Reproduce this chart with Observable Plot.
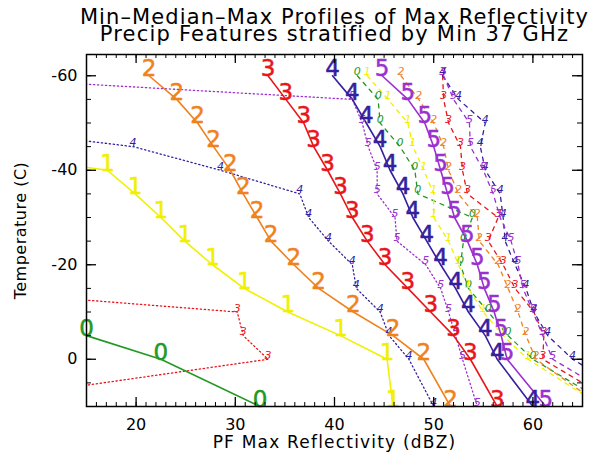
<!DOCTYPE html>
<html><head><meta charset="utf-8">
<script src="https://cdn.jsdelivr.net/npm/d3@7"></script>
<script src="https://cdn.jsdelivr.net/npm/@observablehq/plot@0.6"></script>
<style>body{margin:0;background:#fff}</style>
</head><body><div id="chart"></div>
<script>
// Temperature levels (C)
const temps = [-60,-55,-50,-45,-40,-35,-30,-25,-20,-15,-10,-5,0,10];
// series labels (min 37 GHz classes) and colours
const seriesLabels = ["0","1","2","3","4","5"];
const seriesColors = ["#229922","#f0f000","#f0821e","#e8151b","#34209e","#9b30d0"];
// Median profiles (dBZ) per series, one value per temperature level
const medianDbz = [
  [0,0,0,0,0,0,0,0,0,0,0,15,22.5,32.5],
  [0,0,0,0,17.1,19.9,22.5,24.9,27.7,30.9,35.3,40.6,45.3,45.9],
  [21.3,24.1,26.2,27.8,29.5,30.8,32.2,33.6,35.9,38.4,41.9,45.9,49.0,51.7],
  [33.3,35.1,36.9,37.9,39.3,40.6,41.8,43.3,45.1,47.4,49.7,52.0,53.7,56.4],
  [39.8,41.8,43.2,44.6,45.6,46.9,47.9,49.3,50.7,52.2,53.5,55.2,56.4,60.0],
  [44.8,47.4,49.1,50.0,50.7,51.4,52.1,53.4,54.4,55.1,56.1,56.8,57.4,61.3]
];
// Minimum profiles (dBZ)
const minDbz = [
  [0,0,0,0,0,0,0,0,0,0,0,0,0,0],
  [0,0,0,0,0,0,0,0,0,0,0,0,0,0],
  [0,0,0,0,0,0,0,0,0,0,0,0,0,0],
  [0,0,0,0,0,0,0,0,0,0,30.2,30.8,33.3,0],
  [0,0,0,19.7,28.5,36.5,37.4,39.4,41.8,42.2,44.6,45.5,47.5,50.0],
  [0,41.8,42.8,43.4,44.3,44.3,46.1,46.3,49.2,50.7,51.5,52.2,52.9,54.4]
];
// Maximum profiles (dBZ)
const maxDbz = [
  [42.3,44.4,44.6,46.6,48.1,48.4,53.9,53.0,52.7,53.5,55.5,57.5,60.0,68],
  [43.3,45.4,47.4,47.9,49.0,50.0,50.0,51.5,52.5,53.5,55.0,57.0,59.5,67],
  [46.7,48.5,50.0,51.0,51.5,52.5,54.4,54.6,56.5,57.5,58.5,59.3,60.3,67],
  [50.9,51.0,51.5,52.7,52.9,53.4,56.5,55.5,57.0,58.2,60.1,61.1,61.0,69],
  [50.9,52.5,55.2,54.7,55.2,56.7,57.0,57.2,58.2,59.3,60.1,61.5,64.0,72],
  [51.0,52.0,53.6,53.7,55.0,56.0,56.7,57.8,58.5,59.0,60.0,61.0,62.0,70]
];
const xMajorTicks = [20,30,40,50,60];
const yMajorTicks = [-60,-40,-20,0];
const titleLines = ["Min\u2013Median\u2013Max Profiles of Max Reflectivity","Precip Features stratified by Min 37 GHz"];
const xTitle = "PF Max Reflectivity (dBZ)";
const yTitle = "Temperature (C)";

function rows(arrays) {
  const out = [];
  arrays.forEach((vals, s) => vals.forEach((v, i) => out.push({s, label: seriesLabels[s], color: seriesColors[s], t: temps[i], x: v})));
  return out;
}
const med = rows(medianDbz), mn = rows(minDbz), mx = rows(maxDbz);
const visible = d => d.x >= 14 && d.x <= 65.5;

const W = 591, H = 456, mL = 86, mR = 9, mT = 54, mB = 50;
const fw = W - mL - mR, fh = H - mT - mB;
const xMinor = d3.range(15, 66, 1), yMinor = d3.range(-60, 11, 5);

const chart = Plot.plot({
  width: W, height: H,
  marginLeft: mL, marginRight: mR, marginTop: mT, marginBottom: mB,
  style: {fontFamily: "DejaVu Sans, sans-serif", fontSize: "16px", color: "#000", background: "#fff", overflow: "visible"},
  x: {domain: [15, 65]},
  y: {domain: [10, -64.5]},
  marks: [
    Plot.line(mn, {x: "x", y: "t", z: "s", stroke: "color", strokeWidth: 1.3, strokeDasharray: "1.3,2.7", clip: true}),
    Plot.line(mx, {x: "x", y: "t", z: "s", stroke: "color", strokeWidth: 1.3, strokeDasharray: "4,5", clip: true}),
    Plot.line(med, {x: "x", y: "t", z: "s", stroke: "color", strokeWidth: 1.6, clip: true}),
    Plot.text(mn.filter(visible), {x: "x", y: "t", text: "label", fill: "color", fontSize: 11, fontStyle: "italic", dy: -4}),
    Plot.text(mx.filter(visible), {x: "x", y: "t", text: "label", fill: "color", fontSize: 11, fontStyle: "italic", dy: -4}),
    Plot.text(med.filter(visible), {x: "x", y: "t", text: "label", fill: "color", fontSize: 23, dy: -7, stroke: "color", strokeWidth: 0.5}),
    Plot.frame({stroke: "#000", strokeWidth: 1.5}),
    Plot.tickX(xMinor, {x: d => d, insetTop: fh - 4, stroke: "#000"}),
    Plot.tickX(xMajorTicks, {x: d => d, insetTop: fh - 9, stroke: "#000", strokeWidth: 1.3}),
    Plot.tickX(xMinor, {x: d => d, insetBottom: fh - 4, stroke: "#000"}),
    Plot.tickX(xMajorTicks, {x: d => d, insetBottom: fh - 9, stroke: "#000", strokeWidth: 1.3}),
    Plot.tickY(yMinor, {y: d => d, insetRight: fw - 5, stroke: "#000"}),
    Plot.tickY(yMajorTicks, {y: d => d, insetRight: fw - 10, stroke: "#000", strokeWidth: 1.3}),
    Plot.tickY(yMinor, {y: d => d, insetLeft: fw - 5, stroke: "#000"}),
    Plot.tickY(yMajorTicks, {y: d => d, insetLeft: fw - 10, stroke: "#000", strokeWidth: 1.3}),
    Plot.axisX({ticks: xMajorTicks, tickSize: 0, tickPadding: 12, tickFormat: d => String(d), label: null, fontSize: 16}),
    Plot.axisY({ticks: yMajorTicks, tickSize: 0, tickPadding: 9, tickFormat: d => String(d), label: null, fontSize: 16}),
    Plot.text([xTitle], {frameAnchor: "bottom", dy: 36, fontSize: 17, lineAnchor: "middle", textAnchor: "middle"}),
    Plot.text([yTitle], {frameAnchor: "left", dx: -66, rotate: -90, fontSize: 16, lineAnchor: "middle", textAnchor: "middle"}),
    Plot.text([titleLines[0]], {frameAnchor: "top", dy: -37, fontSize: 21, lineAnchor: "middle", textAnchor: "middle"}),
    Plot.text([titleLines[1]], {frameAnchor: "top", dy: -20, fontSize: 21, lineAnchor: "middle", textAnchor: "middle"})
  ]
});
// widen the spacing of the title texts to match the wide stroke font of the original
const spacing = new Map([[titleLines[0], "1.1px"], [titleLines[1], "1.2px"], [xTitle, "1.2px"], [yTitle, "0.5px"]]);
d3.select(chart).selectAll("text").each(function () {
  const s = spacing.get(this.textContent);
  if (s) this.style.letterSpacing = s;
});
document.getElementById("chart").appendChild(chart);
</script>
</body></html>
